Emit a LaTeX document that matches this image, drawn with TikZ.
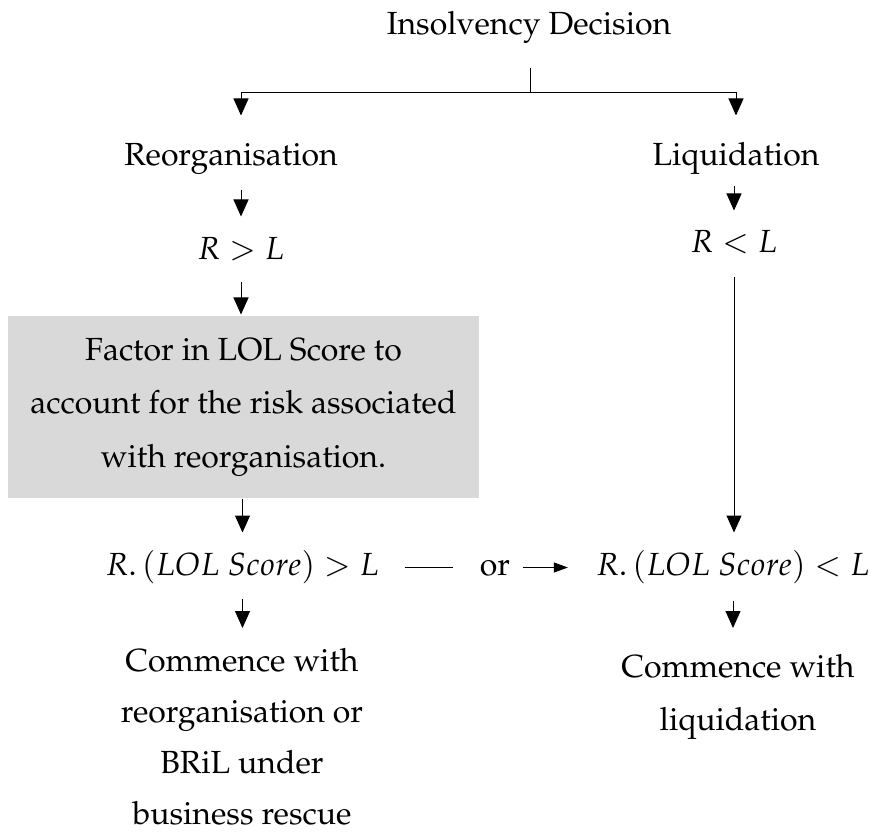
\documentclass[tikz,border=0pt]{standalone}
\usepackage[T1]{fontenc}
\usepackage{mathpazo}
\usetikzlibrary{arrows.meta}
\definecolor{boxgray}{HTML}{D9D9D9}
\begin{document}
\begin{tikzpicture}[x=1pt,y=1pt,
  line width=1pt,
  term/.style={inner sep=0pt, anchor=base, font=\fontsize{32}{40}\selectfont,
               text height=23pt, text depth=8pt},
  formula/.style={term, font=\fontsize{32}{40}\selectfont},
  block/.style={inner sep=0pt, align=center, anchor=north},
  riskbox/.style={fill=boxgray, inner sep=0pt, align=center,
                  minimum width=471pt, minimum height=182pt,
                  font=\fontsize{32}{53.5}\selectfont},
  arr/.style={-{Triangle[width=15pt,length=17pt]}},
  sidearr/.style={-{Triangle[width=10pt,length=14pt]}}
]
\useasboundingbox (0,0) rectangle (870,-834);

% headings
\node[term] (title) at (529,-35) {Insolvency Decision};
\node[term] (reo) at (231,-166) {Reorganisation};
\node[term] (liq) at (736,-166) {Liquidation};

% first comparisons
\node[formula] (rgl) at (241,-260) {$R > L$};
\node[formula] (rll) at (734,-253) {$R < L$};

% shaded step
\node[riskbox] (risk) at (243.5,-407)
  {Factor in LOL Score to\\account for the risk associated\\with reorganisation.};

% adjusted comparisons
\node[formula] (lhs) at (242.5,-575) {$R.\,(LOL\ Score) > L$};
\node[formula] (rhs) at (733,-575) {$R.\,(LOL\ Score) < L$};
\node[term] (or) at (495,-575) {or};

% outcomes
\node[block, font=\fontsize{32}{51}\selectfont] (outR) at (242,-648)
  {Commence with\\reorganisation or\\BRiL under\\business rescue};
\node[block, font=\fontsize{32}{53}\selectfont] (outL) at (738,-654)
  {Commence with\\liquidation};

% split below the title
\coordinate (split) at (530,-93);
\draw[shorten <=25pt] (title.south -| split) -- (split);
\draw[arr, shorten >=27pt] (split) -| (reo.north -| rgl.north);
\draw[arr, shorten >=27pt] (split) -| (liq.north);

% left branch
\draw[arr, shorten <=16pt, shorten >=20pt] (reo.south -| rgl.north) -- (rgl.north);
\draw[arr, shorten <=14pt, shorten >=1pt] (rgl.south) -- (rgl.south |- risk.north);
\draw[arr, shorten >=19pt] (risk.south -| lhs.north) -- (lhs.north);
\draw[arr, shorten <=15pt, shorten >=20pt] (lhs.south) -- (lhs.south |- outR.north);

% right branch
\draw[arr, shorten <=12pt, shorten >=19pt] (liq.south -| rll.north) -- (rll.north);
\draw[arr, shorten <=16pt, shorten >=19pt] (rll.south) -- (rll.south |- rhs.north);
\draw[arr, shorten <=17pt, shorten >=26pt] (rhs.south) -- (rhs.south |- outL.north);

% cross link
\draw[shorten <=25pt, shorten >=26pt] (lhs.east) -- (or.west |- lhs.east);
\draw[sidearr, shorten <=12pt, shorten >=28pt] (or.east |- rhs.west) -- (rhs.west);
\end{tikzpicture}
\end{document}
